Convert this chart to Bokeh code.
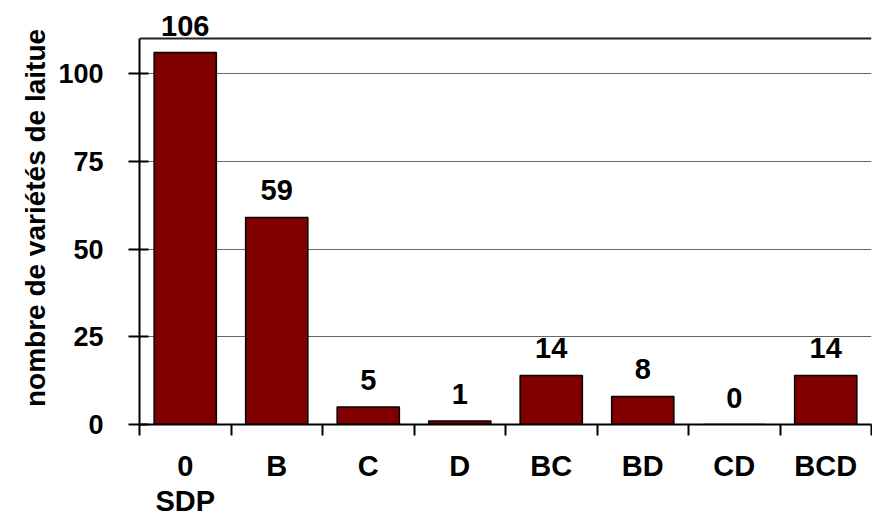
from bokeh.plotting import figure
from bokeh.models import Range1d, FixedTicker, LinearAxis, ColumnDataSource, Label
from bokeh.embed import file_html
from bokeh.resources import INLINE

categories = ["0\nSDP", "B", "C", "D", "BC", "BD", "CD", "BCD"]
values = [106, 59, 5, 1, 14, 8, 0, 14]
y_ticks = [0, 25, 50, 75, 100]
y_max = 110
y_view_top = 117.7   # a little headroom above the plot box for the "106" label
y_label = "nombre de variétés de laitue"

n = len(categories)
centers = [i + 0.5 for i in range(n)]
bounds = [float(i) for i in range(n + 1)]

FONT = "Liberation Sans"

p = figure(width=872, height=519, output_backend="svg", toolbar_location=None,
           x_range=Range1d(0, n), y_range=Range1d(0, y_view_top),
           min_border_left=139, min_border_right=1, min_border_top=11, min_border_bottom=95)
p.outline_line_color = None
p.background_fill_color = "white"
p.border_fill_color = "white"

src = ColumnDataSource(dict(x=centers, top=values))
p.vbar(x="x", top="top", width=0.68, source=src, fill_color="#800000",
       line_color="black", line_width=1.5)

for xc, v in zip(centers, values):
    p.add_layout(Label(x=xc, y=v, text=str(v), y_offset=27,
                       text_align="center", text_baseline="alphabetic",
                       text_font=FONT, text_font_style="bold", text_font_size="29px",
                       text_color="black", level="overlay"))

# x axis
xa = p.xaxis[0]
xa.ticker = FixedTicker(ticks=centers, minor_ticks=bounds)
xa.major_label_overrides = {c: lab for c, lab in zip(centers, categories)}
xa.major_tick_line_color = None
xa.major_tick_in = 0
xa.major_tick_out = 0
xa.minor_tick_line_color = "black"
xa.minor_tick_line_width = 2
xa.minor_tick_in = 0
xa.minor_tick_out = 11
xa.axis_line_color = "black"
xa.axis_line_width = 2
xa.major_label_text_font = FONT
xa.major_label_text_font_style = "bold"
xa.major_label_text_font_size = "29px"
xa.major_label_text_line_height = 1.1
xa.major_label_text_color = "black"
xa.major_label_standoff = 14

# y axis
ya = p.yaxis[0]
ya.ticker = FixedTicker(ticks=y_ticks)
ya.bounds = (0, y_max)
ya.minor_tick_line_color = None
ya.major_tick_line_color = "black"
ya.major_tick_line_width = 2
ya.major_tick_in = 9
ya.major_tick_out = 11
ya.axis_line_color = "black"
ya.axis_line_width = 2
ya.major_label_text_font = FONT
ya.major_label_text_font_style = "bold"
ya.major_label_text_font_size = "27px"
ya.major_label_text_color = "black"
ya.major_label_standoff = 25
ya.axis_label = y_label
ya.axis_label_text_font = FONT
ya.axis_label_text_font_style = "bold"
ya.axis_label_text_font_size = "28px"
ya.axis_label_text_color = "black"
ya.axis_label_standoff = 4

p.xgrid.visible = False
p.ygrid.grid_line_color = "#666666"
p.ygrid.grid_line_width = 1

# top edge of the plot box at y_max
top_axis = LinearAxis(fixed_location=y_max, major_tick_line_color=None, minor_tick_line_color=None,
                      major_label_text_font_size="0px", axis_line_color="#222222",
                      axis_line_width=2, major_tick_in=0, major_tick_out=0)
top_axis.ticker = FixedTicker(ticks=[])
p.add_layout(top_axis, "above")

open("out.html", "w").write(file_html(p, INLINE))
